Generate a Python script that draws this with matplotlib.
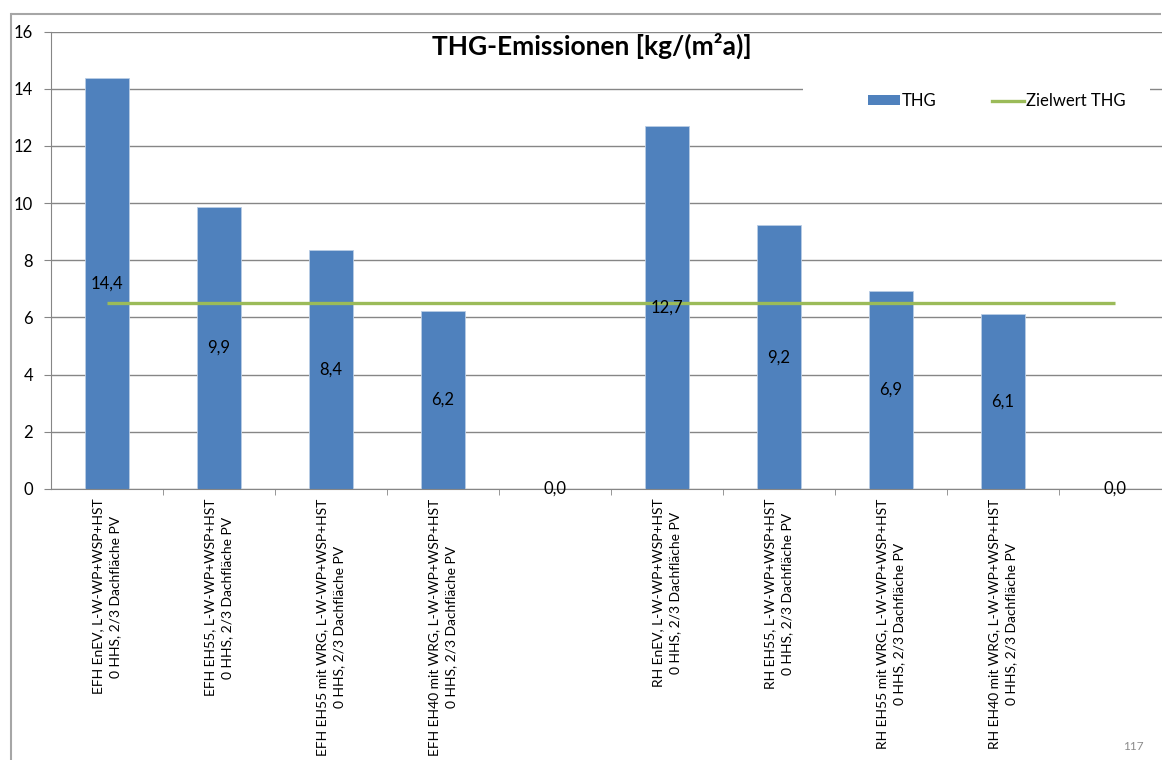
import numpy as np
import matplotlib.pyplot as plt
from matplotlib.patches import Rectangle, Patch
from matplotlib.lines import Line2D

plt.rcParams['font.family'] = ['Lato', 'DejaVu Sans']

# THG-Emissionen je Variante in kg/(m²a)
kategorien = [
    "EFH EnEV, L-W-WP+WSP+HST\n0 HHS, 2/3 Dachfläche PV",
    "EFH EH55, L-W-WP+WSP+HST\n0 HHS, 2/3 Dachfläche PV",
    "EFH EH55 mit WRG, L-W-WP+WSP+HST\n0 HHS, 2/3 Dachfläche PV",
    "EFH EH40 mit WRG, L-W-WP+WSP+HST\n0 HHS, 2/3 Dachfläche PV",
    "",
    "RH EnEV, L-W-WP+WSP+HST\n0 HHS, 2/3 Dachfläche PV",
    "RH EH55, L-W-WP+WSP+HST\n0 HHS, 2/3 Dachfläche PV",
    "RH EH55 mit WRG, L-W-WP+WSP+HST\n0 HHS, 2/3 Dachfläche PV",
    "RH EH40 mit WRG, L-W-WP+WSP+HST\n0 HHS, 2/3 Dachfläche PV",
    "",
]
thg = [14.38, 9.86, 8.37, 6.24, 0.0, 12.7, 9.22, 6.94, 6.13, 0.0]
zielwert = [6.5] * len(kategorien)

BLAU = '#4F81BD'
GRUEN = '#9BBB59'
GRAU = '#868686'
FS = 12

fig = plt.figure(figsize=(11.62, 7.6), dpi=100)

# Rahmen um das Diagramm: nur linke und obere Kante liegen im Bild
y_rahmen = 1 - 13.5 / 760
x_rahmen = 10.5 / 1162
fig.add_artist(Line2D([x_rahmen, x_rahmen], [0.0, y_rahmen],
                      transform=fig.transFigure, color='#A6A6A6', lw=1.5))
fig.add_artist(Line2D([x_rahmen, 0.9995], [y_rahmen, y_rahmen],
                      transform=fig.transFigure, color='#A6A6A6', lw=1.5,
                      solid_capstyle='butt'))

# Zeichenfläche reicht rechts über das Bild hinaus
ax = fig.add_axes([51 / 1162, 1 - 489 / 760, 1120 / 1162, (489 - 31.5) / 760])
ax.patch.set_visible(False)
x = np.arange(len(kategorien))

ax.bar(x, thg, width=0.39, color=BLAU, edgecolor='#B9CDE5', lw=0.6, zorder=2)
ax.plot(x, zielwert, color=GRUEN, lw=2.4, zorder=3, solid_capstyle='butt')

for xi, v in zip(x, thg):
    ax.text(xi, v / 2, f"{v:.1f}".replace('.', ','), ha='center', va='center',
            fontsize=FS, color='black', zorder=4)

ax.set_xlim(-0.5, len(kategorien) - 0.5)
ax.set_ylim(0, 16)
ax.set_yticks(np.arange(0, 17, 2))
ax.yaxis.grid(True, color=GRAU, lw=1.0, zorder=0)
ax.set_axisbelow(True)

ax.set_xticks(x)
ax.set_xticklabels(kategorien, rotation=90, ha='center', va='top',
                   multialignment='center', fontsize=10, linespacing=1.5)
ax.set_xticks(np.arange(0.5, len(kategorien) - 0.5, 1), minor=True)
ax.tick_params(axis='x', which='major', length=0, pad=7)
ax.tick_params(axis='x', which='minor', length=4, color=GRAU, direction='out')
ax.tick_params(axis='y', length=5, color=GRAU, labelsize=FS, pad=8,
               right=False, labelright=False)

for s in ['top', 'right']:
    ax.spines[s].set_visible(False)
ax.spines['left'].set_color(GRAU)
ax.spines['bottom'].set_color(GRAU)

fig.text(592 / 1162, 1 - 46 / 760, "THG-Emissionen [kg/(m²a)]", ha='center',
         va='center', fontsize=19, fontweight='bold')

# Legende auf weißem Feld
fig.patches.append(Rectangle((803 / 1162, 1 - 118 / 760), 347 / 1162, 35 / 760,
                             transform=fig.transFigure, facecolor='white',
                             edgecolor='none', zorder=5))
handles = [Patch(facecolor=BLAU, edgecolor='none'),
           Line2D([0], [0], color=GRUEN, lw=2.4)]
fig.legend(handles, ['THG', 'Zielwert THG'], ncol=2, frameon=False,
           loc='center left', bbox_to_anchor=(853 / 1162, 1 - 101 / 760),
           fontsize=FS, handlelength=1.9, handleheight=0.5,
           handletextpad=0.15, columnspacing=3.3)

fig.text(1133 / 1162, 1 - 747 / 760, "117", ha='center', va='center',
         fontsize=8.5, color='#8C8C8C')

fig.savefig('out.png', dpi=100, facecolor='white')
